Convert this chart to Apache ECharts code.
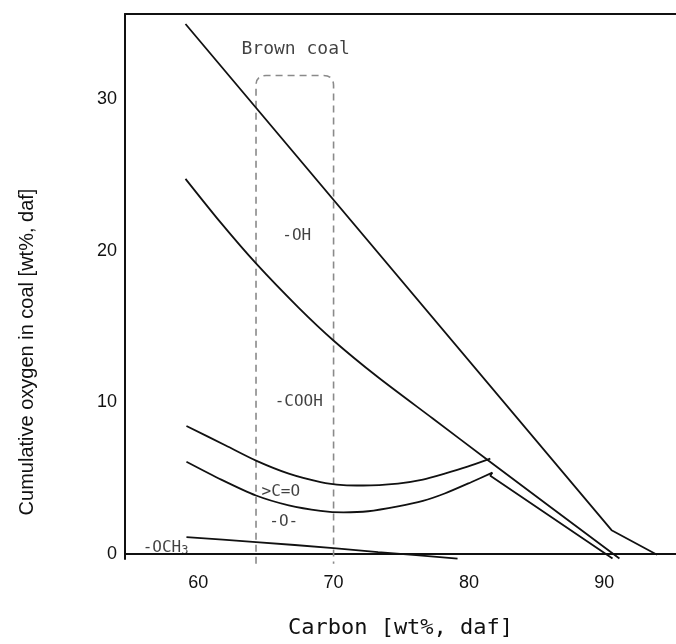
<!DOCTYPE html>
<html>
<head>
<meta charset="utf-8">
<script src="https://cdn.jsdelivr.net/npm/echarts@6/dist/echarts.min.js"></script>
<style>html,body{margin:0;padding:0;background:#fff;overflow:hidden;}#chart{width:676px;height:644px;}</style>
</head>
<body>
<div id="chart"></div>
<script>
// ---- data (carbon wt% daf, cumulative oxygen wt% daf) ----
const xTicks = [60, 70, 80, 90];
const yTicks = [0, 10, 20, 30];
const totalO = [[59.06, 34.97], [90.54, 1.57], [93.9, -0.05]];
const ohBoundary = [[59.06, 24.75], [61.57, 21.96], [64.27, 19.17], [67.43, 16.24], [69.99, 14.09], [73.29, 11.66], [77.33, 8.94], [81.36, 6.22], [91.12, -0.3]];
const coohBoundary = [[59.13, 8.45], [62.07, 7.14], [64.27, 6.16], [66.69, 5.3], [69.04, 4.75], [70.73, 4.55], [72.19, 4.52], [74.76, 4.65], [76.6, 4.91], [78.21, 5.3], [79.9, 5.76], [81.58, 6.29]];
const coBoundary = [[59.13, 6.09], [61.7, 4.91], [64.27, 3.86], [66.69, 3.21], [69.04, 2.85], [70.73, 2.75], [72.56, 2.82], [74.76, 3.14], [76.6, 3.5], [78.21, 3.99], [80.12, 4.72], [81.73, 5.37]];
const coBoundaryTail = [[81.73, 5.37], [81.58, 5.17], [90.61, -0.3]];
const och3Boundary = [[59.13, 1.11], [64.27, 0.79], [69.99, 0.39], [73.29, 0.13], [79.16, -0.31]];
const brownCoalBox = [64.27, 70.0, 31.57, -0.65]; // xLeft, xRight, yTop, yBottom
const annotations = [
  ['Brown coal', 67.2, 33.27],
  ['-OH', 67.28, 21.02],
  ['-COOH', 67.43, 10.02],
  ['>C=O', 66.1, 4.13],
  ['-O-', 66.32, 2.1],
  ['-OCH3', 57.59, 0.39]
];

const chart = echarts.init(document.getElementById('chart'), null, {renderer: 'canvas'});
const lineStyle = {color: '#111', width: 1.8};
function curve(data, smooth) {
  return {type: 'line', data: data, showSymbol: false, symbol: 'none', smooth: smooth, lineStyle: lineStyle, clip: false, silent: true, z: 3};
}
const mono = '"DejaVu Sans Mono", "Liberation Mono", monospace';
const sans = '"Liberation Sans", Arial, sans-serif';
const ink = '#111';

chart.setOption({
  animation: false,
  backgroundColor: '#fff',
  grid: {left: 125, right: -4, top: 14, bottom: 81, containLabel: false},
  xAxis: [{
    type: 'value', min: 54.59, max: 95.3, position: 'bottom',
    axisLine: {show: true, lineStyle: {color: '#111', width: 2}},
    axisTick: {show: false}, splitLine: {show: false},
    axisLabel: {customValues: xTicks, margin: 15, color: ink, fontSize: 18, fontFamily: sans},
    name: 'Carbon [wt%, daf]', nameLocation: 'middle', nameGap: 58,
    nameTextStyle: {fontFamily: mono, fontSize: 22, color: ink, padding: [0, 0, 0, 0]}
  }, {
    type: 'value', min: 54.59, max: 95.3, position: 'top',
    axisLine: {show: true, lineStyle: {color: '#111', width: 2}},
    axisTick: {show: false}, splitLine: {show: false}, axisLabel: {show: false}
  }],
  yAxis: {
    type: 'value', min: -0.33, max: 35.63,
    axisLine: {show: true, lineStyle: {color: '#111', width: 2}},
    axisTick: {show: false}, splitLine: {show: false},
    axisLabel: {customValues: yTicks, margin: 8, color: ink, fontSize: 18, fontFamily: sans}
  },
  graphic: [{
    type: 'text', x: 27, y: 352, rotation: Math.PI / 2,
    style: {text: 'Cumulative oxygen in coal [wt%, daf]', fontSize: 20, fontFamily: sans, fill: ink,
      align: 'center', verticalAlign: 'middle', textAlign: 'center', textVerticalAlign: 'middle'}
  }],
  series: [
    curve(totalO, false),
    curve(ohBoundary, 0.25),
    curve(coohBoundary, 0.25),
    curve(coBoundary, 0.25),
    curve(coBoundaryTail, false),
    curve(och3Boundary, 0.2),
    {
      type: 'custom', clip: false, silent: true, z: 2,
      data: [brownCoalBox],
      renderItem: function (params, api) {
        const tl = api.coord([api.value(0), api.value(2)]);
        const br = api.coord([api.value(1), api.value(3)]);
        const r = 10;
        const d = 'M' + tl[0] + ' ' + br[1] + ' L' + tl[0] + ' ' + (tl[1] + r) +
          ' Q' + tl[0] + ' ' + tl[1] + ' ' + (tl[0] + r) + ' ' + tl[1] +
          ' L' + (br[0] - r) + ' ' + tl[1] +
          ' Q' + br[0] + ' ' + tl[1] + ' ' + br[0] + ' ' + (tl[1] + r) +
          ' L' + br[0] + ' ' + br[1];
        return {type: 'path', shape: {pathData: d},
          style: {fill: 'none', stroke: '#8a8a8a', lineWidth: 1.6, lineDash: [7, 5]}};
      }
    },
    {
      type: 'scatter', symbolSize: 0, silent: true, z: 4,
      data: annotations.map(a => ({value: [a[1], a[2]], name: a[0]})),
      label: {
        show: true, position: 'inside', color: ink, fontFamily: mono, fontSize: 16,
        formatter: function (p) {
          if (p.name === 'Brown coal') return '{big|Brown coal}';
          if (p.name === '-OCH3') return '{n|-OCH}{sub|3}';
          return '{n|' + p.name + '}';
        },
        rich: {
          big: {fontFamily: mono, fontSize: 18, color: ink},
          n: {fontFamily: mono, fontSize: 16, color: ink},
          sub: {fontFamily: mono, fontSize: 12, color: ink, verticalAlign: 'bottom', padding: [6, 0, 0, 0]}
        }
      }
    }
  ]
});
</script>
</body>
</html>
